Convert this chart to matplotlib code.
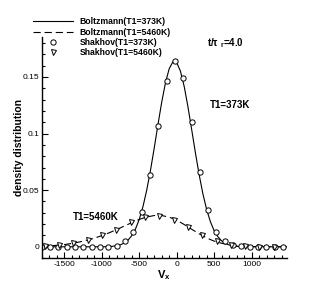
import matplotlib
matplotlib.use('Agg')
import matplotlib.pyplot as plt
from matplotlib.ticker import MultipleLocator, FuncFormatter

plt.rcParams['font.family'] = ['Liberation Sans', 'DejaVu Sans']
plt.rcParams['axes.unicode_minus'] = False
plt.rcParams['mathtext.fontset'] = 'custom'
plt.rcParams['mathtext.rm'] = 'Liberation Sans:bold'
plt.rcParams['mathtext.it'] = 'Liberation Sans:bold'
plt.rcParams['mathtext.bf'] = 'Liberation Sans:bold'

# Boltzmann, T1=373K (solid line)
v_b373 = [-1800, -1700, -1600, -1500, -1400, -1300, -1200, -1100, -1000, -900,
          -850, -800, -750, -700, -650, -600, -550, -500, -450, -400, -350,
          -300, -250, -200, -150, -100, -50, 0, 50, 100, 150, 200, 250, 300,
          350, 400, 450, 500, 550, 600, 650, 700, 750, 800, 850, 900, 1000,
          1100, 1200, 1300, 1400, 1470]
f_b373 = [0, 0, 0, 0, 0, 0, 0, 0, 0, 0.0001,
          0.0005, 0.0010, 0.0018, 0.0033, 0.0058, 0.0098, 0.0157, 0.0241, 0.0355, 0.0500, 0.0674,
          0.0871, 0.1078, 0.1276, 0.1447, 0.1572, 0.1634, 0.1627, 0.1551, 0.1417, 0.1238, 0.1036, 0.0830, 0.0637,
          0.0468, 0.0329, 0.0222, 0.0143, 0.0089, 0.0052, 0.0030, 0.0016, 0.0008, 0.0004, 0.0002, 0.0001, 0,
          0, 0, 0, 0, 0]

# Boltzmann, T1=5460K (dashed line)
v_b5460 = [-1800, -1700, -1600, -1500, -1400, -1300, -1200, -1100, -1000, -900,
           -800, -700, -600, -500, -400, -300, -250, -200, -100, 0, 100, 200,
           300, 400, 500, 600, 700, 800, 900, 1000, 1100, 1200, 1300, 1400, 1470]
f_b5460 = [0.0005, 0.0009, 0.0013, 0.0019, 0.0030, 0.0042, 0.0058, 0.0076, 0.0098, 0.0124,
           0.0152, 0.0183, 0.0213, 0.0242, 0.0263, 0.0276, 0.0278, 0.0276, 0.0262, 0.0235, 0.0197, 0.0155,
           0.0115, 0.0078, 0.0050, 0.0031, 0.0019, 0.0011, 0.0006, 0.0003, 0.0001, 0, 0, 0, 0]

# Shakhov, T1=373K (circles)
v_s373 = [-1800, -1689, -1578, -1467, -1356, -1245, -1134, -1023, -912, -801,
          -690, -579, -468, -357, -246, -135, -24, 87, 198, 309, 420, 531,
          642, 753, 864, 975, 1086, 1197, 1308, 1419]
f_s373 = [0, 0, 0, 0, 0, 0, 0, 0, 0.0002, 0.0010,
          0.0047, 0.0127, 0.0310, 0.0637, 0.1070, 0.1463, 0.1637, 0.1490, 0.1106, 0.0664, 0.0327, 0.0130,
          0.0047, 0.0012, 0.0003, 0, 0, 0, 0, 0]

# Shakhov, T1=5460K (triangles)
v_s5460 = [-1760, -1569, -1378, -1187, -996, -805, -614, -423, -232, -41,
           150, 341, 532, 723, 914, 1105, 1296]
f_s5460 = [0.0006, 0.0015, 0.0033, 0.0058, 0.0103, 0.0152, 0.0215, 0.0266, 0.0274, 0.0236,
           0.0178, 0.0104, 0.0048, 0.0020, 0.0007, 0.0002, 0]

fig = plt.figure(figsize=(3.27, 2.91), dpi=100)
ax = fig.add_axes([0.128, 0.113, 0.749, 0.759])

dash = (0, (6.5, 3.5))
l1, = ax.plot(v_b373, f_b373, color='black', lw=0.8)
l2, = ax.plot(v_b5460, f_b5460, color='black', lw=0.8, linestyle=dash)
l3, = ax.plot(v_s373, f_s373, linestyle='none', marker='o', ms=3.8,
              mfc='white', mec='black', mew=0.7)
l4, = ax.plot(v_s5460, f_s5460, linestyle='none', marker='v', ms=3.6,
              mfc='white', mec='black', mew=0.7)

ax.set_xlim(-1800, 1470)
ax.set_ylim(-0.01, 0.185)

ax.spines['top'].set_visible(False)
ax.spines['right'].set_visible(False)
ax.spines['left'].set_linewidth(1.0)
ax.spines['bottom'].set_linewidth(1.0)

ax.xaxis.set_major_locator(MultipleLocator(500))
ax.xaxis.set_minor_locator(MultipleLocator(100))
ax.yaxis.set_major_locator(MultipleLocator(0.05))
ax.yaxis.set_minor_locator(MultipleLocator(0.01))
ax.yaxis.set_major_formatter(FuncFormatter(lambda y, p: '%g' % round(y, 4)))
ax.tick_params(which='both', direction='in', labelsize=6, width=0.8)
ax.tick_params(which='major', length=4, pad=2)
ax.tick_params(which='minor', length=2)

ax.set_xlabel('V$_x$', fontsize=8, fontweight='bold', labelpad=0)
ax.set_ylabel('density distribution', fontsize=7.5, fontweight='bold')
ax.yaxis.set_label_coords(-0.073, 0.5)

ax.text(404, 0.180, r't/$\tau$ $_r$=4.0', fontsize=7, fontweight='bold', va='center')
ax.text(444, 0.125, 'T1=373K', fontsize=7, fontweight='bold', va='center')
ax.text(-1382, 0.0266, 'T1=5460K', fontsize=7, fontweight='bold', va='center')

fig.legend([l1, l2, l3, l4],
           ['Boltzmann(T1=373K)', 'Boltzmann(T1=5460K)',
            'Shakhov(T1=373K)', 'Shakhov(T1=5460K)'],
           loc='upper left', bbox_to_anchor=(0.101, 0.94), frameon=False,
           prop={'size': 6.2, 'weight': 'bold'}, handlelength=4.6,
           handletextpad=0.8, labelspacing=0.15, borderpad=0, borderaxespad=0)

fig.savefig('out.png', dpi=100)
